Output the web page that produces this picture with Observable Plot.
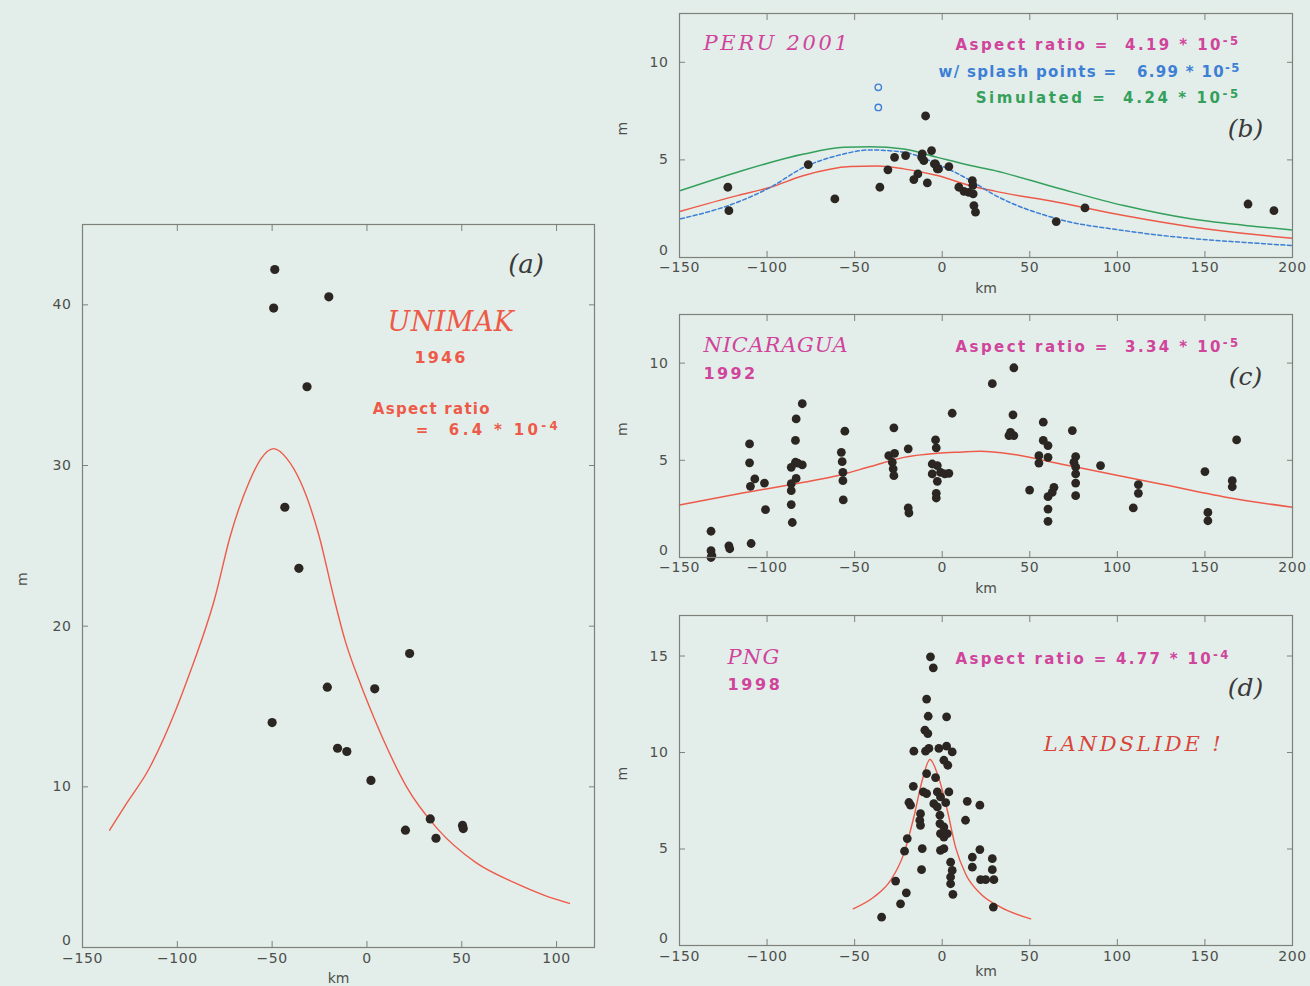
<!DOCTYPE html>
<html><head><meta charset="utf-8">
<script src="https://cdn.jsdelivr.net/npm/d3@7"></script>
<script src="https://cdn.jsdelivr.net/npm/@observablehq/plot@0.6"></script>
<style>
html,body{margin:0;padding:0;background:#e3eeea;}
#chart{position:relative;width:1310px;height:986px;background:#e3eeea;overflow:hidden;}
#chart svg{position:absolute;}
</style></head><body><div id="chart"></div>
<script>
// ---------- tick values ----------
const X_TICKS_A = [-150, -100, -50, 0, 50, 100];
const Y_TICKS_A = [0, 10, 20, 30, 40];
const X_TICKS = [-150, -100, -50, 0, 50, 100, 150, 200];
const Y_TICKS_BC = [0, 5, 10];
const Y_TICKS_D = [0, 5, 10, 15];

// ---------- (a) UNIMAK 1946 ----------
const unimakObs = [[-48.6,42.2],[-49.2,39.8],[-20.1,40.5],[-31.6,34.9],[-43.3,27.4],[-35.9,23.6],[22.5,18.3],[-20.9,16.2],[4.1,16.1],[-50.0,14.0],[-15.5,12.4],[-10.6,12.2],[2.1,10.4],[33.4,8.0],[20.3,7.3],[36.4,6.8],[50.4,7.6],[50.8,7.4]];
const unimakFit = [[-135.7,7.3],[-126.6,9.0],[-115.5,11.0],[-100.4,14.9],[-94.3,16.8],[-80.1,21.8],[-72.1,25.6],[-62,29.0],[-56,30.4],[-49.2,31.05],[-42,30.4],[-35.1,29.0],[-25.2,25.6],[-17.5,21.8],[-11.5,19.1],[-3.4,16.4],[3.7,14.3],[8.8,12.9],[20.9,10.0],[37.1,7.4],[57.3,5.3],[77.5,4.05],[93.6,3.25],[106.8,2.75]];

// ---------- (b) PERU 2001 ----------
const peruObs = [[-122.4,3.6],[-121.8,2.4],[-76.5,4.76],[-61.3,3.0],[-35.6,3.6],[-31.0,4.49],[-27.2,5.13],[-20.9,5.22],[-9.5,7.25],[-11.4,5.31],[-10.5,4.96],[-11.7,5.13],[-6.1,5.48],[-3.8,4.79],[-4.5,4.8],[-2.8,4.54],[-2.1,4.54],[3.8,4.66],[-13.9,4.28],[-16.2,3.99],[-8.5,3.82],[9.5,3.6],[12.4,3.39],[15.2,3.34],[17.2,3.94],[17.7,3.26],[17.5,3.7],[18.1,2.66],[19.0,2.32],[65.1,1.84],[81.5,2.54],[174.6,2.74],[189.4,2.40]];
const peruSplash = [[-36.5,8.72],[-36.5,7.69]];
const peruFit = [[-149.4,2.37],[-117,3.17],[-98,3.6],[-79,4.2],[-52.3,4.66],[-37.1,4.69],[-21.9,4.54],[-2.8,4.2],[16.2,3.68],[30,3.4],[65.7,2.83],[103.7,2.15],[141.8,1.58],[179.9,1.16],[199.9,0.98]];
const peruSplashFit = [[-149.4,1.98],[-117,2.83],[-98,3.6],[-79,4.62],[-60,5.22],[-40.9,5.51],[-21.9,5.39],[-2.8,4.79],[16.2,3.94],[30,3.2],[65.7,1.98],[103.7,1.38],[141.8,0.98],[179.9,0.73],[199.9,0.61]];
const peruSimulated = [[-149.4,3.43],[-117,4.37],[-79,5.3],[-56.2,5.65],[-40.9,5.68],[-21.9,5.56],[-2.8,5.13],[16.2,4.71],[30,4.45],[65.7,3.56],[103.7,2.66],[141.8,1.98],[179.9,1.58],[199.9,1.41]];

// ---------- (c) NICARAGUA 1992 ----------
const nicObs = [[-132,1.35],[-132,0.35],[-131.5,0.1],[-132,0.0],[-121.8,0.6],[-121.3,0.45],[-109.1,0.72],[-110,5.84],[-110,4.87],[-107,4.04],[-109.5,3.66],[-101.5,3.83],[-100.9,2.46],
[-79.9,7.91],[-83.4,7.13],[-83.8,6.02],[-83.8,4.90],[-86.2,4.64],[-79.9,4.76],[-82.5,4.85],[-83.4,4.07],[-86.2,3.44],[-86.2,3.8],[-86.2,2.72],[-85.6,1.80],
[-55.6,6.5],[-57.6,5.41],[-57.1,4.93],[-56.7,4.38],[-56.7,3.95],[-56.5,2.96],
[-27.6,6.67],[-30.5,5.24],[-27.2,5.36],[-28.5,4.90],[-28,4.56],[-27.6,4.21],[-19.4,5.59],[-19.4,2.55],[-19.0,2.29],
[-3.8,6.05],[-3.4,5.64],[-5.7,4.81],[-2.8,4.73],[-5.7,4.30],[-0.95,4.38],[3.8,4.33],[1.5,4.3],[-2.8,3.92],[-3.4,3.30],[-3.4,3.06],[5.7,7.42],
[28.6,8.94],[40.9,9.76],[40.4,7.34],[39.0,6.44],[40.9,6.27],[38.1,6.27],[57.7,6.96],[57.7,6.02],[60.4,5.76],[55.2,5.24],[60.4,5.15],[55.2,4.86],[49.9,3.47],[63.8,3.61],[62.8,3.35],[60.4,3.13],[60.4,2.49],[60.4,1.86],
[74.3,6.53],[76.2,5.19],[75.2,4.90],[76.2,4.66],[76.2,4.30],[76.2,3.83],[76.2,3.18],[90.4,4.73],[112,3.75],[112,3.30],[109.1,2.55],[150,4.42],[151.7,2.32],[151.7,1.89],[165.6,3.95],[165.6,3.64],[168.1,6.05]];
const nicFit = [[-150,2.7],[-117,3.27],[-79,3.87],[-60,4.21],[-40.9,4.68],[-21.9,5.15],[-2.8,5.36],[10.5,5.42],[21.9,5.46],[39,5.33],[67.6,4.81],[96.1,4.30],[124.7,3.78],[162.8,3.09],[200,2.58]];

// ---------- (d) PNG 1998 ----------
const pngObs = [[-6.7,14.96],[-5.1,14.39],[-8.9,12.77],[-8.0,11.88],[2.5,11.85],[-9.9,11.16],[-8.2,10.98],[-16.2,10.07],[-9.5,10.07],[-7.6,10.21],[-1.9,10.21],[2.5,10.33],[5.7,10.03],[0.95,9.60],[3.2,9.34],[-8.9,8.91],[-3.8,8.70],[-16.5,8.25],[-10.8,7.96],[-8.9,7.87],[-2.8,7.96],[3.8,7.96],[-1.0,7.70],[-19.0,7.41],[-18.1,7.27],[-4.8,7.35],[-2.8,7.18],[2.0,7.4],[14.3,7.47],[21.5,7.27],[-12.4,6.83],[-12.8,6.49],[-12.4,6.23],[-1.3,6.75],[-1.3,6.32],[0.95,6.14],[-1.0,5.80],[0.95,5.62],[2.9,5.80],[13.3,6.49],[-1.0,4.93],[0.95,5.02],[-11.4,5.02],[-19.95,5.54],[-21.5,4.89],[-11.8,3.93],[4.8,4.32],[5.7,3.89],[4.8,3.55],[4.8,3.20],[6.1,2.65],[17.2,4.58],[21.5,4.97],[17.2,4.06],[28.6,4.50],[28.6,3.93],[21.9,3.41],[24.8,3.41],[29.5,3.41],[-26.6,3.34],[-20.5,2.73],[-23.8,2.16],[-34.6,1.47],[29.2,1.99]];
const pngFit = [[-50.8,1.90],[-39,2.51],[-29.5,3.37],[-21.9,4.76],[-16.2,6.66],[-11.4,8.56],[-7.0,9.64],[-2.8,8.91],[2.9,7.01],[7.6,5.10],[13.3,3.72],[21.9,2.68],[33.3,1.99],[50.5,1.38]];

// ---------- annotation texts (anchored in data units) ----------
const annA_tag = [{x:83.9, y:42.5, t:"(a)"}];
const annA_name = [{x:44.3, y:38.9, t:"UNIMAK"}];
const annA_year = [{x:39.0, y:36.7, t:"1946"}];
const annA_ratio = [{x:3.1, y:33.5, t:"Aspect ratio"}, {x:25.8, y:32.2, t:"=  6.4 * 10⁻⁴"}];

const annB_tag = [{x:173.2, y:6.6, t:"(b)"}];
const annB_name = [{x:-136.3, y:10.96, t:"PERU 2001"}];
const annB_ratio = [{x:170.4, y:10.86, t:"Aspect ratio =  4.19 * 10⁻⁵"}];
const annB_splash = [{x:170.4, y:9.47, t:"w/ splash points =   6.99 * 10⁻⁵"}];
const annB_sim = [{x:170.4, y:8.14, t:"Simulated =  4.24 * 10⁻⁵"}];

const annC_tag = [{x:173.2, y:9.26, t:"(c)"}];
const annC_name = [{x:-136.3, y:10.91, t:"NICARAGUA"}];
const annC_year = [{x:-136.3, y:9.47, t:"1992"}];
const annC_ratio = [{x:170.4, y:10.81, t:"Aspect ratio =  3.34 * 10⁻⁵"}];

const annD_tag = [{x:173.2, y:13.34, t:"(d)"}];
const annD_name = [{x:-122.6, y:14.95, t:"PNG"}];
const annD_year = [{x:-122.6, y:13.49, t:"1998"}];
const annD_ratio = [{x:7.6, y:14.84, t:"Aspect ratio = 4.77 * 10⁻⁴"}];
const annD_slide = [{x:109.3, y:10.43, t:"LANDSLIDE !"}];

// ---------- styles ----------
const AX = "#7e817a", LBL = "#4d4f4c", DOT = "#2b2622";
const RED = "#ee5a4a", MAG = "#d0449c", BLUE = "#3e7fd6", GREEN = "#34a05c", LRED = "#ee5a48";
const SERIF = "DejaVu Serif", SANS = "DejaVu Sans";
const X = d => d[0], Y = d => d[1];
// rendered widths (px) of the annotation texts in the reference, used to set letter-spacing
const TARGET_WIDTH = {
  "UNIMAK": 127, "PERU 2001": 147, "NICARAGUA": 145, "PNG": 53, "LANDSLIDE !": 180,
  "1946": 53, "1992": 54, "1998": 55,
  "Aspect ratio": 118, "=  6.4 * 10⁻⁴": 145,
  "Aspect ratio =  4.19 * 10⁻⁵": 285, "w/ splash points =   6.99 * 10⁻⁵": 302,
  "Simulated =  4.24 * 10⁻⁵": 265, "Aspect ratio =  3.34 * 10⁻⁵": 285,
  "Aspect ratio = 4.77 * 10⁻⁴": 275
};
const SUP = {"⁴": "-4", "⁵": "-5"};

function serif(data, fill, size, anchor = "start") {
  return Plot.text(data, {x: "x", y: "y", text: "t", fill, fontSize: size, fontFamily: SERIF, fontStyle: "italic", textAnchor: anchor});
}
function sans(data, fill, size, anchor = "start") {
  return Plot.text(data, {x: "x", y: "y", text: "t", fill, fontSize: size, fontFamily: SANS, fontWeight: "bold", textAnchor: anchor});
}

function makePanel(cfg) {
  const yNonZero = cfg.yt.filter(v => v !== 0);
  const svg = Plot.plot({
    width: cfg.width, height: cfg.height,
    marginTop: cfg.mt, marginRight: cfg.mr, marginBottom: cfg.mb, marginLeft: cfg.ml,
    x: {domain: cfg.xd}, y: {domain: cfg.yd},
    style: {background: "transparent", fontFamily: SANS, overflow: "visible"},
    marks: [
      ...cfg.marks,
      Plot.frame({stroke: AX, strokeWidth: 1.2}),
      Plot.axisX(cfg.xt, {anchor: "bottom", tickSize: -6, tickPadding: cfg.xPad, stroke: AX, fill: LBL, fontSize: 14, label: null}),
      Plot.axisX(cfg.xt, {anchor: "top", tickSize: -6, tickFormat: () => "", stroke: AX, label: null}),
      Plot.axisY(yNonZero, {anchor: "left", tickSize: -6, tickPadding: 17, stroke: AX, fill: LBL, fontSize: 14, label: null}),
      Plot.axisY([0], {anchor: "left", tickSize: 0, tickPadding: 11, dy: -7, stroke: "none", fill: LBL, fontSize: 14, label: null}),
      Plot.axisY(yNonZero, {anchor: "right", tickSize: -6, tickFormat: () => "", stroke: AX, label: null}),
      Plot.text(["m"], {frameAnchor: "left", dx: -cfg.mDx, rotate: -90, text: d => d, fill: LBL, fontSize: 14}),
      Plot.text(["km"], {frameAnchor: "bottom", dy: cfg.kmDy, text: d => d, fill: LBL, fontSize: 14})
    ]
  });
  svg.style.left = cfg.left + "px";
  svg.style.top = cfg.top + "px";
  document.getElementById("chart").appendChild(svg);
  const s = d3.select(svg);
  s.selectAll('g[aria-label$="tick label"]').attr("letter-spacing", "0.6px");
  s.selectAll("text").each(function() {
    const key = this.textContent;
    const target = TARGET_WIDTH[key];
    if (target === undefined) return;
    // split a trailing superscript exponent into a raised tspan
    const m = key.match(/^(.*)⁻([⁴⁵])$/);
    if (m) {
      this.textContent = m[1];
      const ts = document.createElementNS("http://www.w3.org/2000/svg", "tspan");
      ts.setAttribute("dy", "-0.45em");
      ts.setAttribute("font-size", "0.78em");
      ts.textContent = SUP[m[2]];
      this.appendChild(ts);
    }
    const natural = this.getComputedTextLength();
    const n = key.length;
    const sp = Math.max(0, (target - natural) / n);
    this.setAttribute("letter-spacing", sp.toFixed(2) + "px");
  });
}

// (a)
makePanel({
  left: 0, top: 0, width: 610, height: 986, mt: 224, mr: 16, mb: 39, ml: 82,
  xd: [-150, 120], yd: [0, 45], xt: X_TICKS_A, yt: Y_TICKS_A, xPad: 12, mDx: 60, kmDy: 35,
  marks: [
    Plot.line(unimakFit, {x: X, y: Y, stroke: RED, strokeWidth: 1.4, curve: "monotone-x"}),
    Plot.dot(unimakObs, {x: X, y: Y, r: 4.6, fill: DOT}),
    serif(annA_tag, "#3a3a3a", 26, "middle"),
    serif(annA_name, LRED, 27, "middle"),
    sans(annA_year, LRED, 16, "middle"),
    sans(annA_ratio, LRED, 15, "start")
  ]
});

// (b)
makePanel({
  left: 610, top: 0, width: 700, height: 300, mt: 13, mr: 18, mb: 43, ml: 69,
  xd: [-150, 200], yd: [0, 12.5], xt: X_TICKS, yt: Y_TICKS_BC, xPad: 11, mDx: 57, kmDy: 35,
  marks: [
    Plot.line(peruSimulated, {x: X, y: Y, stroke: GREEN, strokeWidth: 1.5, curve: "monotone-x"}),
    Plot.line(peruFit, {x: X, y: Y, stroke: RED, strokeWidth: 1.5, curve: "monotone-x"}),
    Plot.line(peruSplashFit, {x: X, y: Y, stroke: BLUE, strokeWidth: 1.5, strokeDasharray: "4,2.5", curve: "monotone-x"}),
    Plot.dot(peruObs, {x: X, y: Y, r: 4.4, fill: DOT}),
    Plot.dot(peruSplash, {x: X, y: Y, r: 3.2, stroke: BLUE, strokeWidth: 1.4, fill: "none"}),
    serif(annB_tag, "#3a3a3a", 25, "middle"),
    serif(annB_name, MAG, 21, "start"),
    sans(annB_ratio, MAG, 15, "end"),
    sans(annB_splash, BLUE, 15, "end"),
    sans(annB_sim, GREEN, 15, "end")
  ]
});

// (c)
makePanel({
  left: 610, top: 300, width: 700, height: 300, mt: 14, mr: 18, mb: 43, ml: 69,
  xd: [-150, 200], yd: [0, 12.5], xt: X_TICKS, yt: Y_TICKS_BC, xPad: 11, mDx: 57, kmDy: 35,
  marks: [
    Plot.line(nicFit, {x: X, y: Y, stroke: RED, strokeWidth: 1.5, curve: "monotone-x"}),
    Plot.dot(nicObs, {x: X, y: Y, r: 4.4, fill: DOT}),
    serif(annC_tag, "#3a3a3a", 25, "middle"),
    serif(annC_name, MAG, 21, "start"),
    sans(annC_year, MAG, 16, "start"),
    sans(annC_ratio, MAG, 15, "end")
  ]
});

// (d)
makePanel({
  left: 610, top: 600, width: 700, height: 386, mt: 15, mr: 18, mb: 41, ml: 69,
  xd: [-150, 200], yd: [0, 17.1], xt: X_TICKS, yt: Y_TICKS_D, xPad: 12, mDx: 57, kmDy: 30,
  marks: [
    Plot.line(pngFit, {x: X, y: Y, stroke: RED, strokeWidth: 1.4, curve: "monotone-x"}),
    Plot.dot(pngObs, {x: X, y: Y, r: 4.4, fill: DOT}),
    serif(annD_tag, "#3a3a3a", 25, "middle"),
    serif(annD_name, MAG, 21, "start"),
    sans(annD_year, MAG, 16, "start"),
    sans(annD_ratio, MAG, 15, "start"),
    serif(annD_slide, "#d9453a", 21, "middle")
  ]
});
</script>
</body></html>
